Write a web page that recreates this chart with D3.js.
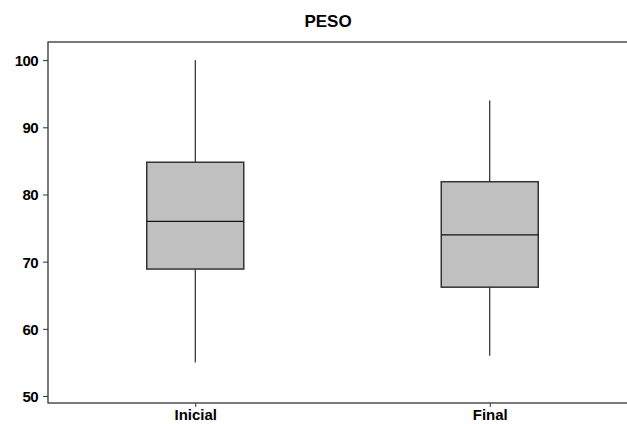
<!DOCTYPE html>
<html>
<head>
<meta charset="utf-8">
<script src="https://cdn.jsdelivr.net/npm/d3@7"></script>
<style>
  body { margin: 0; background: #fff; overflow: hidden; }
  text { font-family: "Liberation Sans", Arial, sans-serif; font-weight: bold; fill: #000; }
</style>
</head>
<body>
<div id="chart"></div>
<script>
// box plot summary values
const categories = ['Inicial', 'Final'];
const mins = [55, 56];
const q1s = [68.9, 66.2];
const medians = [76.0, 74.0];
const q3s = [84.8, 81.9];
const maxs = [100, 94];
const yTicks = [50, 60, 70, 80, 90, 100];

const width = 627, height = 424;
const plotLeft = 48, plotTop = 42, plotBottom = 403, plotRight = 637;

const svg = d3.select('#chart').append('svg')
  .attr('width', width)
  .attr('height', height)
  .style('display', 'block');

const x = d3.scalePoint()
  .domain(categories)
  .range([plotLeft, plotRight])
  .padding(0.5);

const y = d3.scaleLinear()
  .domain([48.96, 102.7])
  .range([plotBottom, plotTop]);

// title
svg.append('text')
  .attr('x', 328)
  .attr('y', 27)
  .attr('text-anchor', 'middle')
  .style('font-size', '17px')
  .text('PESO');

// frame
svg.append('rect')
  .attr('x', plotLeft)
  .attr('y', plotTop)
  .attr('width', plotRight - plotLeft)
  .attr('height', plotBottom - plotTop)
  .attr('fill', 'none')
  .attr('stroke', '#333')
  .attr('stroke-width', 1.3);

// axes
const yAxis = svg.append('g')
  .attr('transform', `translate(${plotLeft},0)`)
  .call(d3.axisLeft(y).tickValues(yTicks).tickSize(5).tickPadding(5));
yAxis.select('.domain').remove();
yAxis.selectAll('.tick line').attr('stroke', '#333');
yAxis.selectAll('text').style('font-size', '15px').attr('dy', '0.36em').style('letter-spacing', '-0.6px');

const xAxis = svg.append('g')
  .attr('transform', `translate(0,${plotBottom})`)
  .call(d3.axisBottom(x).tickSize(4).tickPadding(2));
xAxis.select('.domain').remove();
xAxis.selectAll('.tick line').attr('stroke', '#333');
xAxis.selectAll('text').style('font-size', '15px').attr('dy', '0.71em');

const boxW = 97;
const data = categories.map((c, i) => ({
  cat: c, min: mins[i], q1: q1s[i], med: medians[i], q3: q3s[i], max: maxs[i]
}));

const g = svg.append('g').selectAll('g').data(data).join('g');

// whiskers
g.append('line')
  .attr('x1', d => x(d.cat)).attr('x2', d => x(d.cat))
  .attr('y1', d => y(d.max)).attr('y2', d => y(d.q3))
  .attr('stroke', '#000').attr('stroke-width', 1);
g.append('line')
  .attr('x1', d => x(d.cat)).attr('x2', d => x(d.cat))
  .attr('y1', d => y(d.q1)).attr('y2', d => y(d.min))
  .attr('stroke', '#000').attr('stroke-width', 1);

// boxes
g.append('rect')
  .attr('x', d => x(d.cat) - boxW / 2)
  .attr('y', d => y(d.q3))
  .attr('width', boxW)
  .attr('height', d => y(d.q1) - y(d.q3))
  .attr('fill', '#c0c0c0')
  .attr('stroke', '#333')
  .attr('stroke-width', 1.5);

// median
g.append('line')
  .attr('x1', d => x(d.cat) - boxW / 2).attr('x2', d => x(d.cat) + boxW / 2)
  .attr('y1', d => y(d.med)).attr('y2', d => y(d.med))
  .attr('stroke', '#111').attr('stroke-width', 1.3);
</script>
</body>
</html>
